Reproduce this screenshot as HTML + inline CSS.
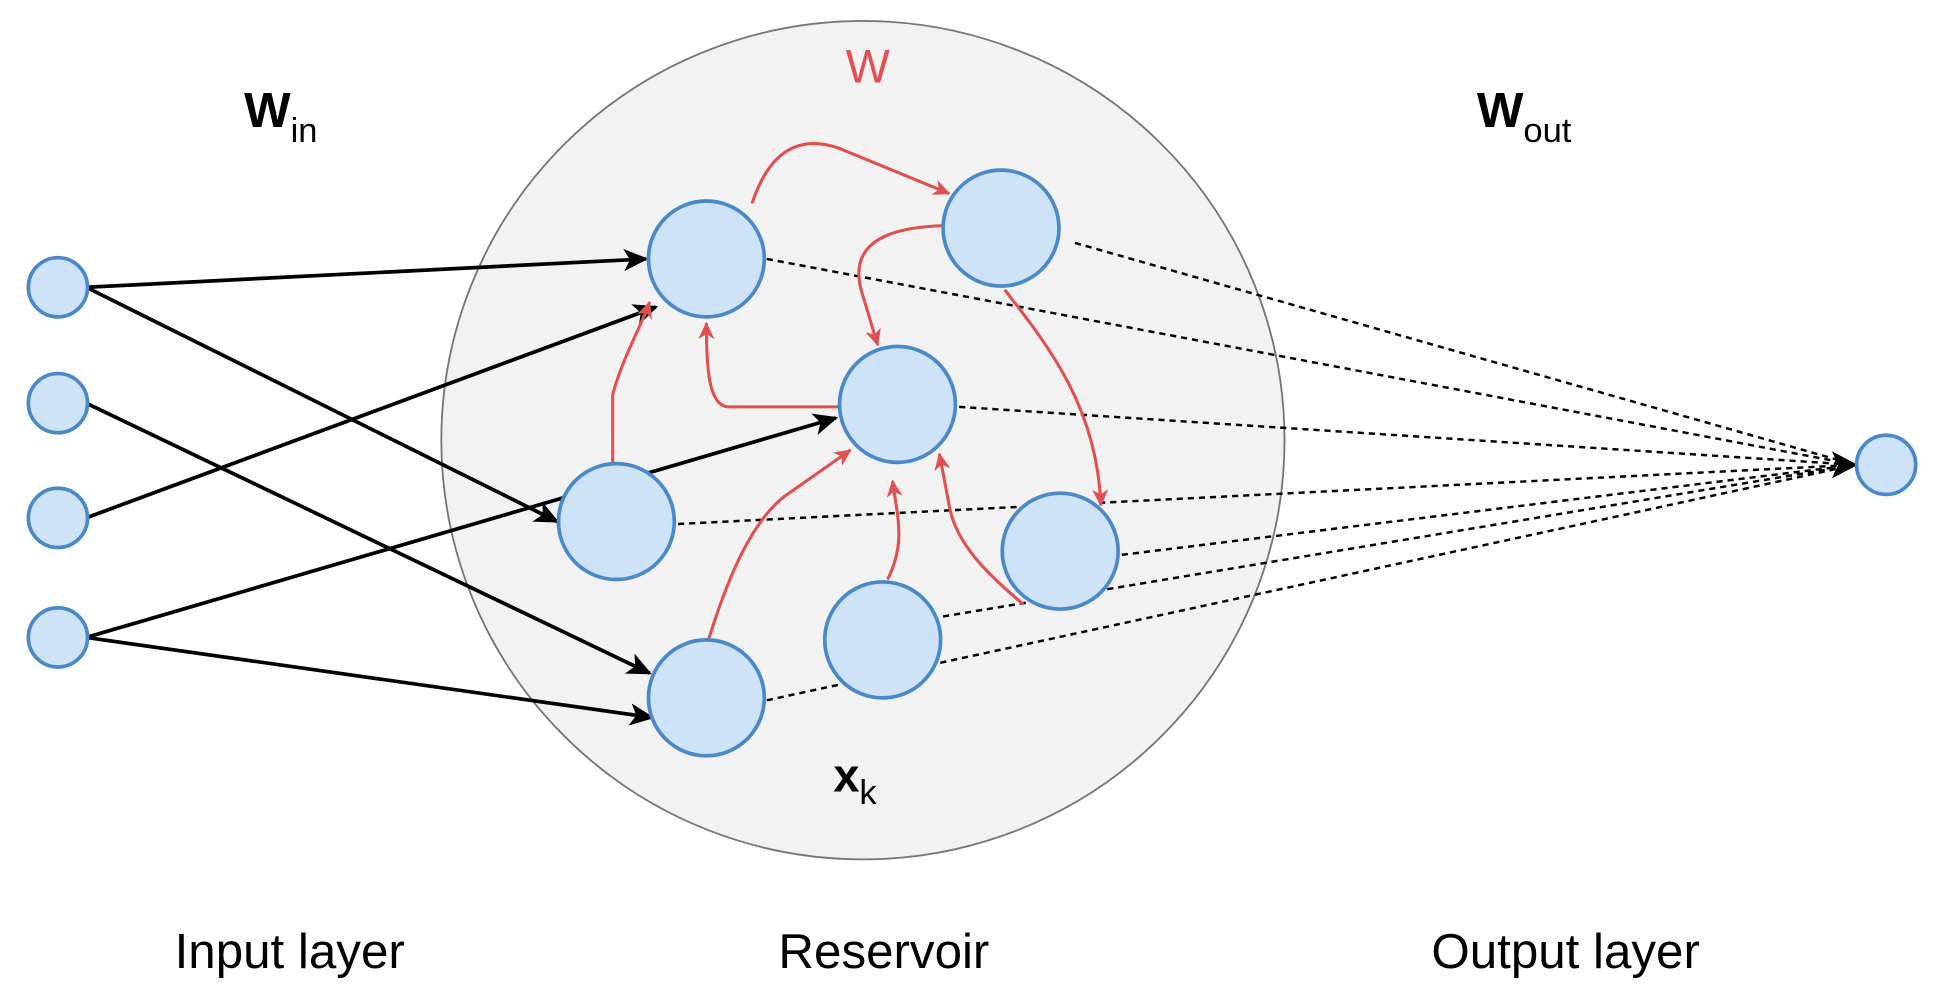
<!DOCTYPE html>
<html><head><style>html,body{margin:0;padding:0;background:#fff}svg{display:block}</style></head>
<body>
<svg width="1933" height="995" viewBox="0 0 1568 807" preserveAspectRatio="none" xmlns="http://www.w3.org/2000/svg">
<defs>
<marker id="ab" markerWidth="20" markerHeight="18" refX="18" refY="9" orient="auto" markerUnits="userSpaceOnUse" viewBox="0 0 20 18"><path d="M0,0 L20,9 L0,18 L5,9z" fill="#000"/></marker>
<marker id="ar" markerWidth="14" markerHeight="13" refX="13" refY="6.5" orient="auto" markerUnits="userSpaceOnUse" viewBox="0 0 14 13"><path d="M0,0 L14,6.5 L0,13 L4,6.5z" fill="#e05050"/></marker>
</defs>
<ellipse cx="700" cy="357" rx="342" ry="340" fill="#f2f2f2" stroke="#777" stroke-width="1.5"/>
<g stroke="#000" stroke-width="2" stroke-dasharray="5,4" fill="none">
<line x1="622" y1="210" x2="1505" y2="377"/>
<line x1="872" y1="197" x2="1505" y2="377"/>
<line x1="778" y1="330" x2="1505" y2="377"/>
<line x1="550" y1="425" x2="1505" y2="377"/>
<line x1="910" y1="450" x2="1505" y2="377"/>
<line x1="765" y1="500" x2="1505" y2="377"/>
<line x1="622" y1="568" x2="1505" y2="377"/>
</g>
<path d="M1486,366 L1507,377 L1486,388 L1491,377z" fill="#000"/>
<g stroke="#000" stroke-width="3" fill="none" marker-end="url(#ab)">
<line x1="70" y1="233" x2="524" y2="210"/>
<line x1="70" y1="233" x2="452" y2="423"/>
<line x1="70" y1="327" x2="527" y2="546"/>
<line x1="70" y1="420" x2="532" y2="249"/>
<line x1="70" y1="517" x2="678" y2="339"/>
<line x1="70" y1="517" x2="529" y2="582"/>
</g>
<g stroke="#e05050" stroke-width="2.5" fill="none" marker-end="url(#ar)">
<path d="M610,165 C625,120 650,110 680,120 L770,157"/>
<path d="M765,183 C700,185 690,210 700,240 L712,280"/>
<path d="M815,235 C850,280 890,330 893,410"/>
<path d="M680,330 L590,330 C575,328 573,300 573,262"/>
<path d="M497,375 L497,320 C505,290 520,265 527,245"/>
<path d="M575,518 C590,470 610,420 640,400 L690,365"/>
<path d="M720,470 C735,440 728,420 724,390"/>
<path d="M830,490 C800,465 775,440 770,410 L762,368"/>
</g>
<g fill="#cfe3f8" stroke="#4a88cc" stroke-width="3">
<circle cx="47" cy="233" r="24"/><circle cx="47" cy="327" r="24"/>
<circle cx="47" cy="420" r="24"/><circle cx="47" cy="517" r="24"/>
<circle cx="1530" cy="377" r="24"/>
<circle cx="573" cy="210" r="47"/><circle cx="812" cy="185" r="47"/>
<circle cx="728" cy="328" r="47"/><circle cx="500" cy="423" r="47"/>
<circle cx="860" cy="447" r="47"/><circle cx="716" cy="519" r="47"/>
<circle cx="573" cy="566" r="47"/>
</g>
<g font-family="Liberation Sans, sans-serif">
<text x="198" y="103" font-size="40" font-weight="bold">W<tspan font-size="28" font-weight="normal" dy="12">in</tspan></text>
<text x="1198" y="103" font-size="40" font-weight="bold">W<tspan font-size="28" font-weight="normal" dy="12">out</tspan></text>
<text x="686" y="67" font-size="38" fill="#e05050">W</text>
<text x="676" y="642" font-size="38" font-weight="bold">x<tspan font-size="28" font-weight="normal" dy="10">k</tspan></text>
<text x="235" y="785" font-size="40" text-anchor="middle">Input layer</text>
<text x="717" y="785" font-size="40" text-anchor="middle">Reservoir</text>
<text x="1270" y="785" font-size="40" text-anchor="middle">Output layer</text>
</g>
</svg>
</body></html>
